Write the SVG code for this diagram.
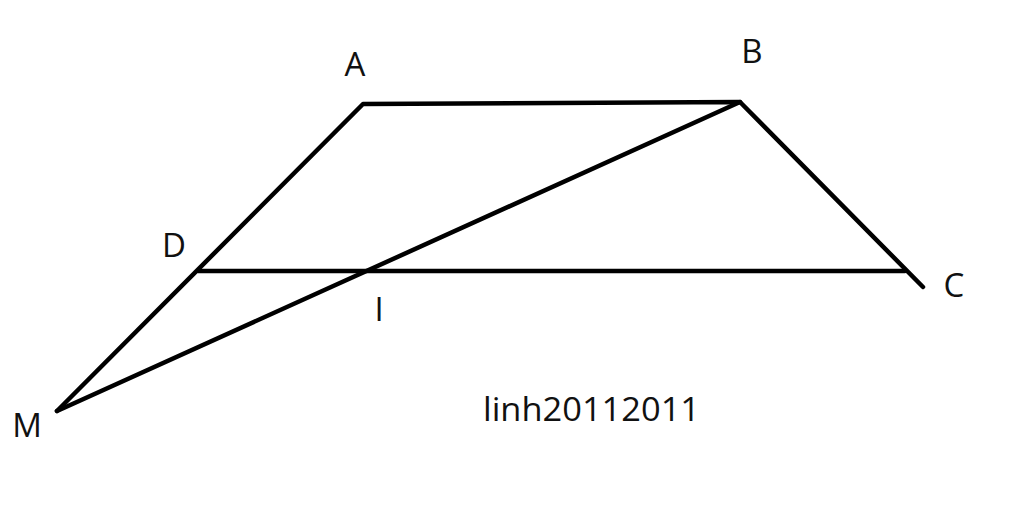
<svg xmlns="http://www.w3.org/2000/svg" width="1024" height="507" viewBox="0 0 1024 507">
<style>
.e{stroke:#000;stroke-width:4.5;fill:none;stroke-linecap:round;stroke-linejoin:round}
.t{font-family:"Open Sans","Liberation Sans",sans-serif;font-size:33px;fill:#111}
</style>
<rect width="1024" height="507" fill="#fff"/>
<g id="connectors">
<polyline class="e" points="57,411 363,104 740,102 923,287"/>
<line class="e" x1="198" y1="271" x2="905" y2="271"/>
<line class="e" x1="57" y1="411" x2="740" y2="102"/>
</g>
<g id="A"><text class="t" x="355" y="76" text-anchor="middle">A</text></g>
<g id="B"><text class="t" x="752" y="63" text-anchor="middle">B</text></g>
<g id="D"><text class="t" x="174" y="257" text-anchor="middle">D</text></g>
<g id="C"><text class="t" x="954" y="297" text-anchor="middle">C</text></g>
<g id="I"><text class="t" x="379" y="321" text-anchor="middle">I</text></g>
<g id="M"><text class="t" x="27" y="437" text-anchor="middle">M</text></g>
<g id="label"><text class="t" x="483" y="421" textLength="217" lengthAdjust="spacingAndGlyphs">linh20112011</text></g>
</svg>
